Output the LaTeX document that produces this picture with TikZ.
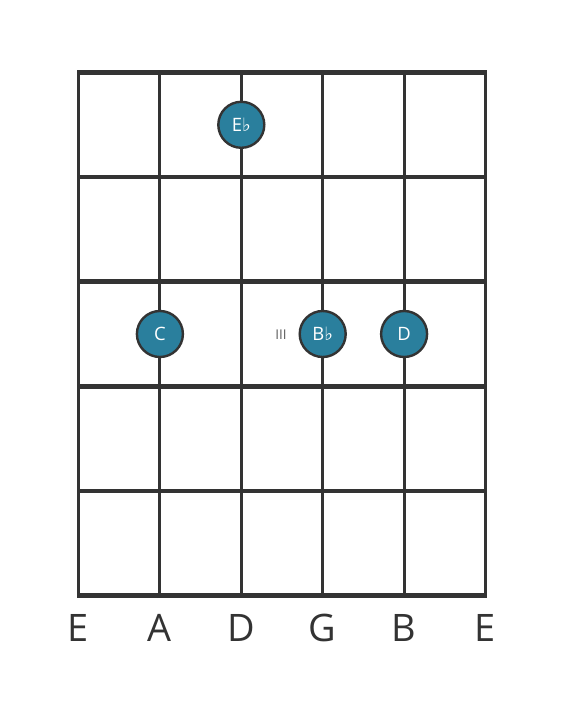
\documentclass[tikz,border=0pt]{standalone}
\usepackage{fontspec}
\setmainfont{Open Sans}
\newfontfamily\symf{DejaVu Sans}
\newcommand{\flt}{{\symf ♭}}
\definecolor{gridc}{HTML}{333333}
\definecolor{dotc}{HTML}{2A7F9D}
\begin{document}
\begin{tikzpicture}[x=1bp,y=-1bp,
  fret/.style={draw=gridc,line width=4.5bp},
  string/.style={draw=gridc,line width=3bp},
  dot/.style={circle,fill=dotc,draw=gridc,line width=2.4bp,minimum size=46bp,inner sep=0pt,text=white,font=\fontsize{18.5}{18.5}\selectfont},
  strlabel/.style={text=gridc,font=\fontsize{38}{38}\selectfont,inner sep=0pt},
  small/.style={text=gridc!80,font=\fontsize{13.5}{13.5}\selectfont,inner sep=0pt}]
\useasboundingbox (0,0) rectangle (566,711);
\foreach \i in {0,...,5}{
  \pgfmathsetmacro{\xx}{78.5+\i*81.4}
  \coordinate (s\i t) at (\xx,72.5);
  \coordinate (s\i b) at (\xx,595.5);
  \draw[string] (s\i t) -- (s\i b);
}
\foreach \j in {0,...,5}{
  \pgfmathsetmacro{\yy}{72.5+\j*104.6}
  \coordinate (f\j l) at (77,\yy);
  \coordinate (f\j r) at (487,\yy);
  \draw[fret] (f\j l) -- (f\j r);
}
\node[dot] (eb) at (241.3,124.8) {E\flt};
\node[dot] (c) at (159.9,334) {C};
\node[dot] (bb) at (322.7,334) {B\flt};
\node[dot] (d) at (404.1,334) {D};
\node[small] (iii) at (281,334.5) {III};
\node[strlabel] (l0) at (78.5,628) {E};
\node[strlabel] (l1) at (159.9,628) {A};
\node[strlabel] (l2) at (241.3,628) {D};
\node[strlabel] (l3) at (322.7,628) {G};
\node[strlabel] (l4) at (404.1,628) {B};
\node[strlabel] (l5) at (485.5,628) {E};
\end{tikzpicture}
\end{document}
